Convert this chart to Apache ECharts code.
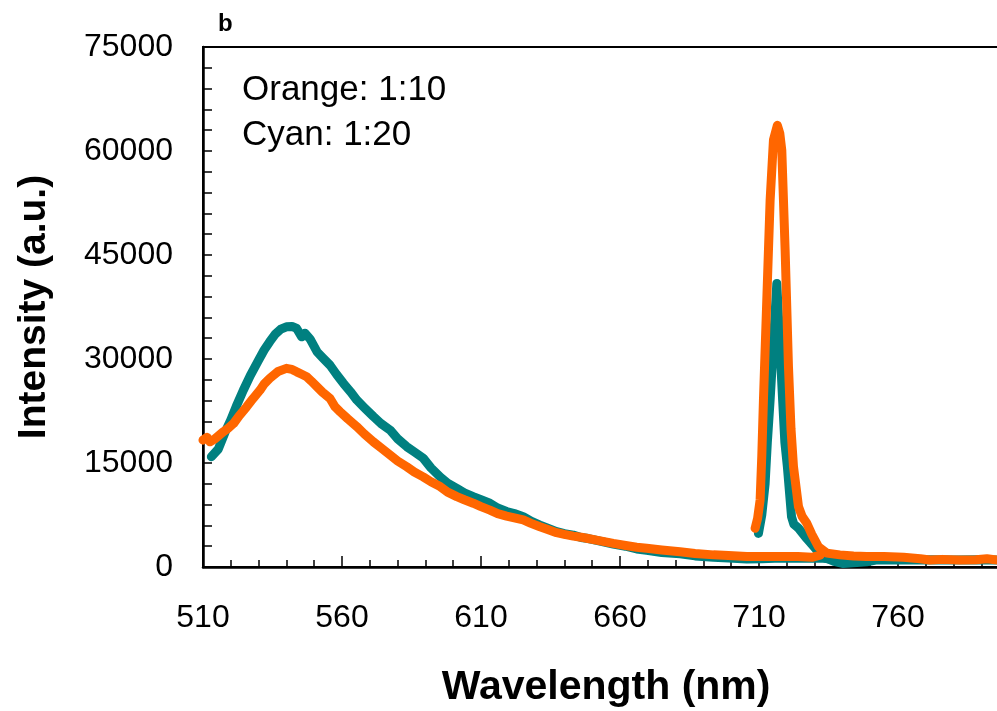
<!DOCTYPE html>
<html>
<head>
<meta charset="utf-8">
<script src="https://cdn.jsdelivr.net/npm/echarts@6/dist/echarts.min.js"></script>
<style>
  html, body { margin: 0; padding: 0; background: #fff; }
  #main { width: 997px; height: 711px; }
</style>
</head>
<body>
<div id="main"></div>
<script>
// cyan 1:20, broad emission band
const cyanBandNm = [513, 515.5, 518, 520, 522, 524.5, 527, 530, 532, 534, 536, 538, 540, 542, 543.7, 545.5, 546.7, 548.5, 551, 553, 555.7, 558, 560.5, 563, 565.3, 568, 571.3, 574, 577.3, 580, 583.3, 586, 589.2, 592, 595.3, 598, 601.3, 604, 607.2, 610, 613.2, 616, 619.2, 622, 625.2, 628, 631.2, 634, 637.2, 640, 643.2, 646, 648.6, 652, 657.6, 662, 666, 669.6, 675, 681.6, 687, 693.6, 699, 705.6, 711, 718, 725, 732, 735];
const cyanBandVal = [15900, 17000, 19500, 21200, 23200, 25500, 27600, 29850, 31300, 32500, 33600, 34300, 34650, 34700, 34400, 33200, 33700, 32900, 31050, 30200, 29100, 27800, 26500, 25300, 24100, 23000, 21700, 20700, 19750, 18500, 17350, 16600, 15700, 14300, 13000, 12100, 11350, 10700, 10150, 9700, 9200, 8500, 8000, 7700, 7250, 6600, 6050, 5600, 5100, 4800, 4600, 4250, 4100, 3800, 3300, 3000, 2600, 2400, 2100, 1900, 1600, 1400, 1300, 1150, 1200, 1300, 1250, 1300, 1200];

// cyan 1:20, sharp peak
const cyanPeakNm = [709.8, 711, 712.2, 713, 714, 715.4, 716.4, 717.3, 718.5, 719.3, 720.2, 721.7, 722.5, 724.2, 727.2, 730.8, 734.4, 737, 740.3, 744, 748.7, 752, 758, 765, 772, 780, 788, 796];
const cyanPeakVal = [4850, 7500, 12000, 18000, 24100, 33700, 40900, 33700, 24100, 18000, 14500, 7250, 6200, 5600, 4100, 2450, 1250, 800, 500, 600, 750, 1000, 1050, 1000, 1050, 1000, 1050, 1000];

// orange 1:10, broad emission band
const orangeBandNm = [510, 511.5, 512.5, 514, 515.5, 517.3, 519, 521, 523, 525.7, 528, 530.5, 532, 534, 537, 540, 542, 543.7, 545.5, 547.3, 549, 551, 553, 555.7, 557.5, 559.3, 562, 565.3, 568, 571.3, 574, 577.3, 580, 583.3, 586, 589.2, 592, 595.3, 598, 601.3, 604, 607.2, 610, 613.2, 616, 619.2, 622, 625.2, 628, 631.2, 634, 637.2, 640, 643.2, 646, 648, 652, 657.6, 662, 666, 669.6, 675, 681.6, 687, 693.6, 699, 705.6, 712, 718, 724, 729, 732];
const orangeBandVal = [18300, 18700, 18050, 18400, 18900, 19500, 20000, 20700, 21800, 23100, 24300, 25500, 26400, 27200, 28200, 28650, 28500, 28150, 27800, 27450, 26800, 26000, 25200, 24300, 23100, 22400, 21400, 20250, 19200, 18050, 17200, 16150, 15300, 14450, 13700, 13000, 12300, 11600, 10800, 10150, 9700, 9200, 8700, 8200, 7700, 7350, 7100, 6800, 6300, 5800, 5400, 4950, 4700, 4450, 4300, 4150, 3850, 3400, 3100, 2850, 2700, 2450, 2200, 1950, 1750, 1650, 1500, 1500, 1500, 1500, 1400, 1700];

// orange 1:10, sharp peak
const orangePeakNm = [708.6, 709.5, 710.4, 711, 711.6, 712.8, 714, 715.2, 716.6, 717.5, 718.2, 719.4, 720.6, 721.5, 722.4, 724.2, 725.5, 727.2, 729, 731.4, 734.4, 739.1, 744, 748.7, 755, 762, 768, 771.5, 776, 782, 788, 792, 796];
const orangePeakVal = [5580, 7000, 9660, 16000, 24100, 38500, 52900, 61600, 63700, 62500, 60100, 45700, 28900, 20000, 14500, 8700, 7300, 6300, 4700, 2900, 2000, 1750, 1600, 1500, 1500, 1400, 1200, 1000, 1100, 1000, 1050, 1200, 1000];

const xTicks = [510, 560, 610, 660, 710, 760];
const yTicks = [0, 15000, 30000, 45000, 60000, 75000];
const notes = ['Orange: 1:10', 'Cyan: 1:20'];

const CYAN = '#008080';
const ORANGE = '#FF6600';
const FONT = '"Liberation Sans", Arial, sans-serif';

const pairs = (xs, ys) => xs.map((x, i) => [x, ys[i]]);

const lineSeries = (name, color, xs, ys) => ({
  name: name,
  type: 'line',
  data: pairs(xs, ys),
  showSymbol: false,
  symbol: 'none',
  silent: true,
  animation: false,
  lineStyle: { color: color, width: 9, cap: 'round', join: 'round' },
});

const chart = echarts.init(document.getElementById('main'));

chart.setOption({
  animation: false,
  grid: {
    left: 203,
    top: 47,
    width: (800 - xTicks[0]) * 2.78,
    height: 520,
    show: true,
    borderColor: '#000',
    borderWidth: 2,
    containLabel: false,
    outerBoundsMode: 'none',
  },
  xAxis: {
    type: 'value',
    min: xTicks[0],
    max: 800,
    interval: 50,
    name: 'Wavelength (nm)',
    nameLocation: 'middle',
    nameGap: 100,
    nameTextStyle: { fontFamily: FONT, fontSize: 41, fontWeight: 'bold', color: '#000' },
    axisLine: { show: true, onZero: false, lineStyle: { color: '#000', width: 2.5 } },
    axisTick: { show: true, inside: true, length: 11, lineStyle: { color: '#000', width: 1.5 } },
    minorTick: { show: true, splitNumber: 5, length: 7, lineStyle: { color: '#000', width: 1.5 } },
    axisLabel: {
      fontFamily: FONT, fontSize: 32, color: '#000', margin: 35,
      showMaxLabel: false,
      formatter: v => (xTicks.includes(v) ? String(v) : ''),
    },
    splitLine: { show: false },
  },
  yAxis: {
    type: 'value',
    min: yTicks[0],
    max: yTicks[yTicks.length - 1],
    interval: 15000,
    name: 'Intensity (a.u.)',
    nameLocation: 'middle',
    nameGap: 149,
    nameTextStyle: { fontFamily: FONT, fontSize: 39, fontWeight: 'bold', color: '#000' },
    axisLine: { show: true, lineStyle: { color: '#000', width: 2.5 } },
    axisTick: { show: true, inside: true, length: 9, lineStyle: { color: '#000', width: 1.5 } },
    minorTick: { show: true, splitNumber: 5, length: 9, lineStyle: { color: '#000', width: 1.5 } },
    axisLabel: {
      fontFamily: FONT, fontSize: 32, color: '#000', margin: 30,
      formatter: v => String(v),
    },
    splitLine: { show: false },
  },
  series: [
    lineSeries('Cyan band', CYAN, cyanBandNm, cyanBandVal),
    lineSeries('Cyan peak', CYAN, cyanPeakNm, cyanPeakVal),
    lineSeries('Orange band', ORANGE, orangeBandNm, orangeBandVal),
    lineSeries('Orange peak', ORANGE, orangePeakNm, orangePeakVal),
  ],
  graphic: [
    { type: 'text', left: 218, top: 12, style: { text: 'b', font: 'bold 24px ' + FONT, fill: '#000' } },
    { type: 'text', left: 242, top: 73, style: { text: notes[0], font: '35px ' + FONT, fill: '#000' } },
    { type: 'text', left: 242, top: 118, style: { text: notes[1], font: '35px ' + FONT, fill: '#000' } },
  ],
});
</script>
</body>
</html>
